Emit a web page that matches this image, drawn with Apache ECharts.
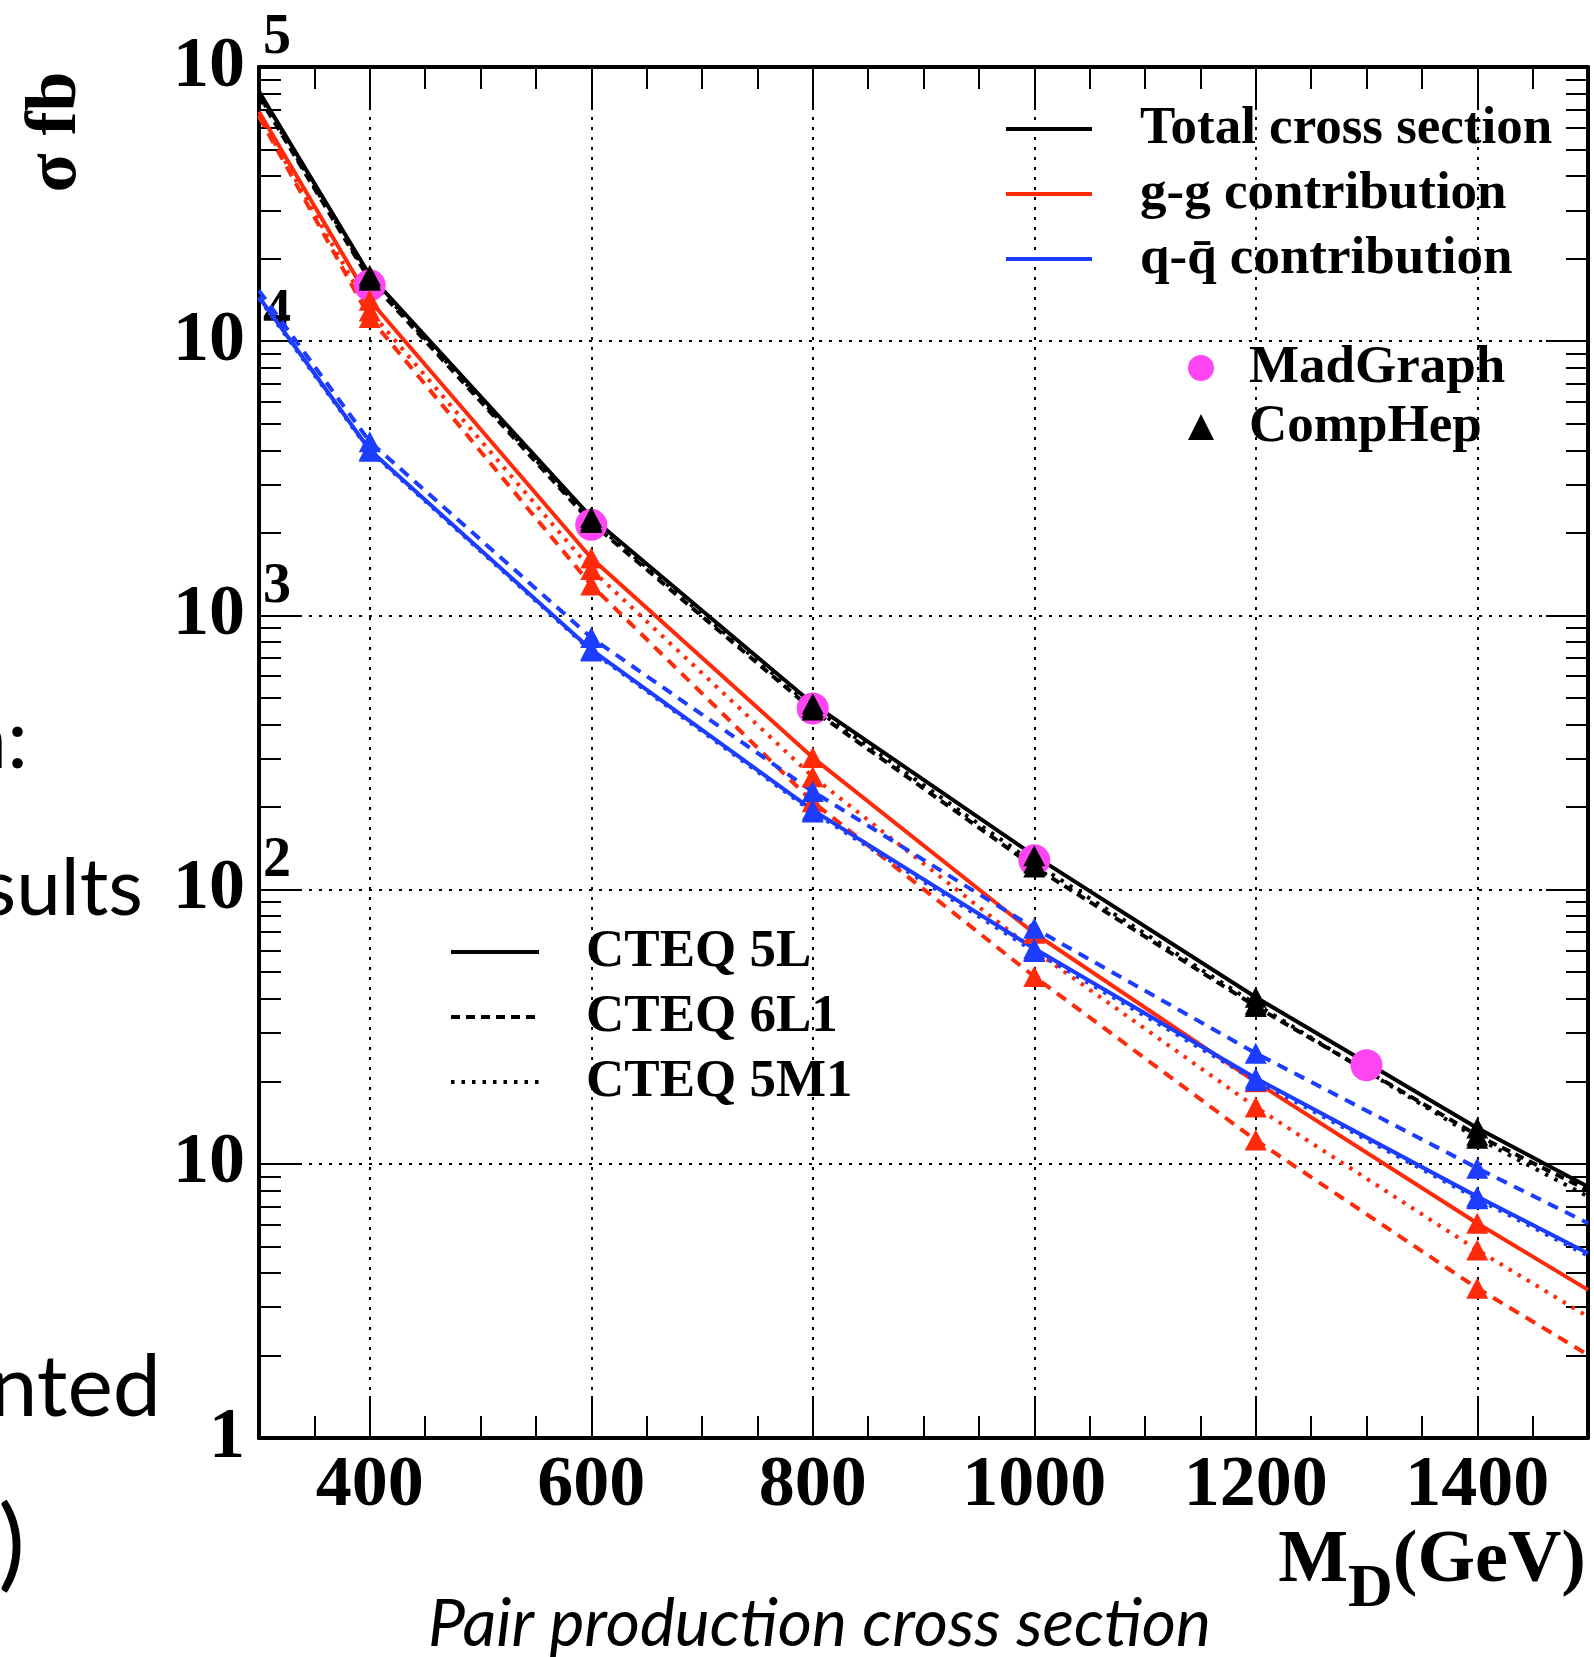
<!DOCTYPE html>
<html>
<head>
<meta charset="utf-8">
<title>Pair production cross section</title>
<script src="https://cdn.jsdelivr.net/npm/echarts@6/dist/echarts.min.js"></script>
<style>
  html, body { margin: 0; padding: 0; background: #fff; }
  #chart { width: 1594px; height: 1657px; }
</style>
</head>
<body>
<div id="chart"></div>
<script>
// masses where the curves are sampled (GeV)
const massPoints = [300, 400, 600, 800, 1000, 1200, 1400, 1500];
// CompHep triangles are only at the inner masses
const compHepMasses = [400, 600, 800, 1000, 1200, 1400];

// total cross section, fb
const totalCteq5L  = [81300, 17400, 2280, 476, 133, 40.5, 13.5, 8.25];
const totalCteq6L1 = [78000, 16700, 2180, 452, 121, 37.5, 12.7, 8.0];
const totalCteq5M1 = [79000, 17000, 2220, 462, 125, 38.2, 12.4, 7.6];

// g-g contribution
const ggCteq5L  = [68700, 14100, 1620, 303, 69.3, 19.9, 6.07, 3.47];
const ggCteq6L1 = [65900, 12200, 1290, 209, 48.2, 12.2, 3.52, 2.01];
const ggCteq5M1 = [66800, 12900, 1470, 258, 60, 16.1, 4.85, 2.77];

// q-qbar contribution
const qqCteq5L  = [14500, 4010, 750, 195, 61, 20.5, 7.59, 4.72];
const qqCteq6L1 = [15300, 4300, 830, 228, 72.3, 25.3, 9.64, 6.07];
const qqCteq5M1 = [14300, 3970, 742, 192, 59.5, 20.1, 7.45, 4.62];

// MadGraph check points
const madGraphMasses = [400, 600, 800, 1000, 1300];
const madGraphValues = [16000, 2140, 458, 128, 22.9];

const xTickLabels = [400, 600, 800, 1000, 1200, 1400];
const yTickValues = [1, 10, 100, 1000, 10000, 100000];
const yExponentValues = [100, 1000, 10000, 100000];

const BLACK = '#000000';
const RED = '#ff2a0a';
const BLUE = '#1c3cff';
const MAGENTA = '#ff44f2';
const SERIF = '"Liberation Serif", "Times New Roman", serif';
const SANS = 'Lato, "Open Sans", sans-serif';

const LINE_W = 4;
const DASHED = [11, 8];
const DOTTED = [3.5, 7];

// minor ticks: every 50 GeV, 2..9 per decade
const xMinor = [];
for (let m = 350; m < 1500; m += 50) if (m % 200 !== 0) xMinor.push(m);
const yMinor = [];
for (let d = 1; d < 100000; d *= 10) for (let k = 2; k <= 9; k++) yMinor.push(k * d);

function curve(name, values, color, dash) {
    return {
        name: name,
        type: 'line',
        data: massPoints.map((m, i) => [m, values[i]]),
        symbol: 'none',
        lineStyle: { color: color, width: LINE_W, type: dash },
        itemStyle: { color: color },
        silent: true,
        z: 3
    };
}

const curves = [
    [totalCteq5L, BLACK], [totalCteq6L1, BLACK], [totalCteq5M1, BLACK],
    [ggCteq5L, RED], [ggCteq6L1, RED], [ggCteq5M1, RED],
    [qqCteq5L, BLUE], [qqCteq6L1, BLUE], [qqCteq5M1, BLUE]
];
const compHepData = [];
curves.forEach(([values, color]) => {
    compHepMasses.forEach((m) => {
        compHepData.push({ value: [m, values[massPoints.indexOf(m)]], itemStyle: { color: color } });
    });
});

const labelFont = { fontFamily: SERIF, fontWeight: 'bold', fontSize: 72, color: BLACK };
const tickStyle = { color: BLACK, width: 2 };
const frameLine = { show: true, onZero: false, lineStyle: { color: BLACK, width: 4 } };
const gridDots = { show: true, lineStyle: { color: BLACK, width: 2, type: [3, 7] } };

function xAxisDef(position, ticks, length, withLabels) {
    return {
        type: 'value', position: position, min: 300, max: 1500,
        axisLine: withLabels !== null ? frameLine : { show: false },
        axisTick: { show: true, inside: true, length: length, customValues: ticks, lineStyle: tickStyle },
        axisLabel: withLabels
            ? Object.assign({ show: true, customValues: xTickLabels, margin: 12, formatter: (v) => String(v) }, labelFont)
            : { show: false },
        splitLine: withLabels ? gridDots : { show: false }
    };
}

function yAxisDef(position, ticks, length, frame) {
    return {
        type: 'log', logBase: 10, position: position, min: 1, max: 100000,
        axisLine: frame ? frameLine : { show: false },
        axisTick: { show: true, inside: true, length: length, customValues: ticks, lineStyle: tickStyle },
        axisLabel: { show: false },
        splitLine: { show: false }
    };
}

const yMain = yAxisDef('left', yTickValues, 42, true);
yMain.axisLabel = Object.assign({
    show: true, customValues: yTickValues, margin: 14,
    formatter: (v) => (v === 1 ? '1' : '10')
}, labelFont);
yMain.splitLine = gridDots;

const yExp = yAxisDef('left', yMinor, 22, false);
yExp.axisLabel = {
    show: true, inside: true, customValues: yExponentValues, margin: 4,
    verticalAlign: 'bottom', align: 'left',
    fontFamily: SERIF, fontWeight: 'bold', fontSize: 56, color: BLACK,
    formatter: (v) => String(Math.round(Math.log10(v)))
};

const legendText = {
    fontFamily: SERIF, fontWeight: 'bold', fontSize: 53, color: BLACK, lineHeight: 60
};

const option = {
    animation: false,
    backgroundColor: '#ffffff',
    grid: { left: 259, right: 6, top: 67, bottom: 219, containLabel: false, outerBoundsMode: 'none' },
    xAxis: [
        xAxisDef('bottom', xTickLabels, 42, true),
        xAxisDef('bottom', xMinor, 22, null),
        xAxisDef('top', xTickLabels, 42, false),
        xAxisDef('top', xMinor, 22, null)
    ],
    yAxis: [
        yMain,
        yExp,
        yAxisDef('right', yTickValues, 42, true),
        yAxisDef('right', yMinor, 22, false)
    ],
    legend: [
        {
            data: ['Total cross section', 'g-g contribution', 'q-q\u0304 contribution'],
            orient: 'vertical', left: 1004, top: 99, padding: 0,
            itemWidth: 86, itemHeight: 2, itemGap: 5, selectedMode: false,
            itemStyle: { opacity: 0 },
            lineStyle: { width: LINE_W },
            textStyle: Object.assign({ padding: [0, 0, 0, 43] }, legendText)
        },
        {
            data: ['MadGraph', 'CompHep'],
            orient: 'vertical', left: 1188, top: 341, padding: 0,
            itemWidth: 26, itemHeight: 26, itemGap: 5, selectedMode: false,
            textStyle: Object.assign({ padding: [0, 0, 0, 30] }, legendText, { lineHeight: 54 })
        },
        {
            data: ['CTEQ 5L', 'CTEQ 6L1', 'CTEQ 5M1'],
            orient: 'vertical', left: 449, top: 922, padding: 0,
            itemWidth: 88, itemHeight: 2, itemGap: 5, selectedMode: false,
            itemStyle: { opacity: 0 },
            lineStyle: { width: LINE_W },
            textStyle: Object.assign({ padding: [0, 0, 0, 42] }, legendText)
        }
    ],
    series: [
        curve('Total cross section', totalCteq5L, BLACK, 'solid'),
        curve('CTEQ 6L1', totalCteq6L1, BLACK, [9, 6]),
        curve('CTEQ 5M1', totalCteq5M1, BLACK, DOTTED),
        curve('g-g contribution', ggCteq5L, RED, 'solid'),
        curve('g-g 6L1', ggCteq6L1, RED, DASHED),
        curve('g-g 5M1', ggCteq5M1, RED, DOTTED),
        curve('q-q\u0304 contribution', qqCteq5L, BLUE, 'solid'),
        curve('q-q\u0304 6L1', qqCteq6L1, BLUE, DASHED),
        curve('q-q\u0304 5M1', qqCteq5M1, BLUE, DOTTED),
        // legend entry for the PDF set of the solid curves
        { name: 'CTEQ 5L', type: 'line', data: [], symbol: 'none',
          lineStyle: { color: BLACK, width: LINE_W }, itemStyle: { color: BLACK } },
        {
            name: 'MadGraph', type: 'scatter', symbol: 'circle', symbolSize: 32,
            data: madGraphMasses.map((m, i) => [m, madGraphValues[i]]),
            itemStyle: { color: MAGENTA, opacity: 1 }, silent: true, z: 4
        },
        {
            name: 'CompHep', type: 'scatter', symbol: 'triangle', symbolSize: [22, 21],
            data: compHepData,
            itemStyle: { color: BLACK, opacity: 1 }, silent: true, z: 5
        }
    ],
    graphic: [
        {
            type: 'text', x: 56, y: 132, rotation: Math.PI / 2,
            style: { text: '\u03c3 fb', font: 'bold 72px ' + SERIF, fill: BLACK,
                     align: 'center', textAlign: 'center', verticalAlign: 'middle', textVerticalAlign: 'middle' }
        },
        {
            type: 'text', x: 1586, y: 1562,
            style: {
                text: '{m|M}{d|D}{m|(GeV)}', fill: BLACK,
                align: 'right', textAlign: 'right', verticalAlign: 'middle', textVerticalAlign: 'middle',
                rich: {
                    m: { fontFamily: SERIF, fontWeight: 'bold', fontSize: 74, lineHeight: 74 },
                    d: { fontFamily: SERIF, fontWeight: 'bold', fontSize: 62, lineHeight: 62, padding: [56, 0, 0, 0] }
                }
            }
        },
        { type: 'text', x: 28, y: 741,
          style: { text: 'n:', font: '84px ' + SANS, fill: BLACK, align: 'right', textAlign: 'right', verticalAlign: 'middle', textVerticalAlign: 'middle' } },
        { type: 'text', x: 143, y: 889,
          style: { text: 'sults', font: '80px ' + SANS, fill: BLACK, align: 'right', textAlign: 'right', verticalAlign: 'middle', textVerticalAlign: 'middle' } },
        { type: 'text', x: 161, y: 1388,
          style: { text: 'nted', font: '86px ' + SANS, fill: BLACK, align: 'right', textAlign: 'right', verticalAlign: 'middle', textVerticalAlign: 'middle' } },
        { type: 'text', x: 25, y: 1546,
          style: { text: ')', font: '100px ' + SANS, fill: BLACK, align: 'right', textAlign: 'right', verticalAlign: 'middle', textVerticalAlign: 'middle' } },
        { type: 'text', x: 428, y: 1625,
          style: { text: 'Pair production cross section', font: 'italic 66px ' + SANS, fill: BLACK, align: 'left', textAlign: 'left', verticalAlign: 'middle', textVerticalAlign: 'middle' } }
    ]
};

const chart = echarts.init(document.getElementById('chart'), null, { renderer: 'canvas' });
chart.setOption(option);
</script>
</body>
</html>
